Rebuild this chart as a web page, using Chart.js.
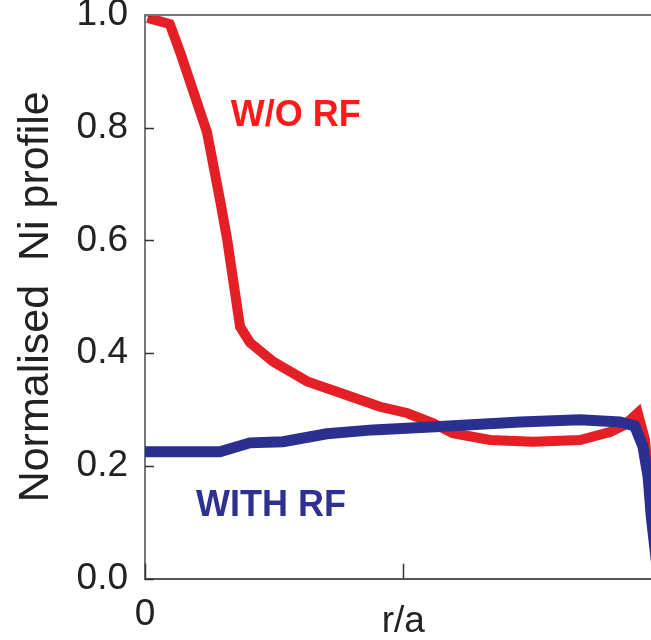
<!DOCTYPE html>
<html>
<head>
<meta charset="utf-8">
<script src="https://cdn.jsdelivr.net/npm/chart.js@4"></script>
<style>
  html, body { margin: 0; padding: 0; background: #fff; overflow: hidden; }
  #wrap { width: 700px; height: 640px; }
</style>
</head>
<body>
<div id="wrap"><canvas id="grafico" width="700" height="640"></canvas></div>
<script>
// r/a positions and normalised Ni profile
const semRfX = [0.005, 0.048, 0.068, 0.12, 0.145, 0.159, 0.184, 0.203, 0.248, 0.314, 0.377, 0.455, 0.507, 0.557, 0.596, 0.668, 0.751, 0.842, 0.9, 0.929, 0.954, 0.968, 0.981, 1.0];
const semRfY = [0.995, 0.984, 0.934, 0.792, 0.673, 0.602, 0.447, 0.419, 0.385, 0.35, 0.33, 0.305, 0.294, 0.276, 0.258, 0.246, 0.243, 0.246, 0.26, 0.273, 0.294, 0.246, 0.104, 0.0];

const comRfX = [0, 0.145, 0.203, 0.267, 0.352, 0.441, 0.571, 0.726, 0.842, 0.919, 0.948, 0.964, 0.974, 0.98, 0.99, 1.0];
const comRfY = [0.225, 0.225, 0.241, 0.243, 0.257, 0.264, 0.27, 0.278, 0.282, 0.278, 0.271, 0.234, 0.18, 0.11, 0.03, 0.0];

const yTicks = [0, 0.2, 0.4, 0.6, 0.8, 1.0];
const xTickLabels = { 0: '0', 0.5: '', 1: '1' };

// curve labels, placed in data coordinates
const rotulos = [
    { texto: 'W/O RF', x: 0.292, y: 0.82, cor: '#ff1a1a' },
    { texto: 'WITH RF', x: 0.244, y: 0.129, cor: '#2e3192' }
];

const vermelho = '#e41f26';
const azul = '#2b3090';

function pares(xs, ys) {
    return xs.map((x, i) => ({ x: x, y: ys[i] }));
}

// inward tick marks, frame line and curve labels
const extras = {
    id: 'extras',
    afterDatasetsDraw(chart) {
        const ctx = chart.ctx;
        const area = chart.chartArea;
        const sx = chart.scales.x;
        const sy = chart.scales.y;
        ctx.save();
        ctx.strokeStyle = '#333';
        ctx.lineWidth = 1.5;
        sy.ticks.forEach(t => {
            const py = Math.round(sy.getPixelForValue(t.value)) + 0.5;
            ctx.beginPath();
            ctx.moveTo(area.left, py);
            ctx.lineTo(area.left + 9, py);
            ctx.stroke();
        });
        sx.ticks.forEach(t => {
            const px = Math.round(sx.getPixelForValue(t.value)) + 0.5;
            ctx.beginPath();
            ctx.moveTo(px, area.bottom);
            ctx.lineTo(px, area.bottom - 15);
            ctx.stroke();
        });
        ctx.strokeStyle = '#777';
        ctx.lineWidth = 2;
        ctx.beginPath();
        ctx.moveTo(area.left, area.top);
        ctx.lineTo(area.right, area.top);
        ctx.lineTo(area.right, area.bottom);
        ctx.stroke();

        ctx.font = 'bold 36px "Liberation Sans", Arial, sans-serif';
        ctx.textAlign = 'center';
        ctx.textBaseline = 'middle';
        rotulos.forEach(r => {
            ctx.fillStyle = r.cor;
            ctx.fillText(r.texto, sx.getPixelForValue(r.x), sy.getPixelForValue(r.y));
        });
        ctx.restore();
    }
};

const ctx = document.getElementById('grafico').getContext('2d');

new Chart(ctx, {
    type: 'scatter',
    data: {
        datasets: [
            {
                label: 'W/O RF',
                data: pares(semRfX, semRfY),
                showLine: true,
                borderColor: vermelho,
                backgroundColor: vermelho,
                borderWidth: 10,
                pointRadius: 0,
                tension: 0,
                order: 2
            },
            {
                label: 'WITH RF',
                data: pares(comRfX, comRfY),
                showLine: true,
                borderColor: azul,
                backgroundColor: azul,
                borderWidth: 11,
                pointRadius: 0,
                tension: 0,
                order: 1
            }
        ]
    },
    options: {
        responsive: false,
        animation: false,
        layout: { padding: { top: 15, right: 38.4, left: 0, bottom: 0 } },
        plugins: {
            legend: { display: false },
            tooltip: { enabled: false }
        },
        scales: {
            x: {
                type: 'linear',
                min: 0,
                max: 1,
                afterBuildTicks: s => { s.ticks = Object.keys(xTickLabels).map(v => ({ value: parseFloat(v) })); },
                afterFit: s => { s.height = 61.3; },
                grid: { display: false, drawTicks: false },
                border: { display: true, color: '#555', width: 2 },
                ticks: {
                    padding: 14,
                    color: '#222',
                    font: { family: '"Liberation Sans", Arial, sans-serif', size: 37 },
                    callback: v => xTickLabels[v] !== undefined ? xTickLabels[v] : ''
                },
                title: {
                    display: true,
                    text: 'r/a',
                    color: '#222',
                    font: { family: '"Liberation Sans", Arial, sans-serif', size: 37, lineHeight: 1 },
                    padding: { top: 0, bottom: 0 }
                }
            },
            y: {
                type: 'linear',
                min: 0,
                max: 1,
                afterBuildTicks: s => { s.ticks = yTicks.map(v => ({ value: v })); },
                afterFit: s => { s.width = 145; s.paddingTop = 0; s.paddingBottom = 0; },
                grid: { display: false, drawTicks: false },
                border: { display: true, color: '#777', width: 2 },
                ticks: {
                    padding: 17,
                    color: '#222',
                    font: { family: '"Liberation Sans", Arial, sans-serif', size: 37 },
                    callback: v => v.toFixed(1)
                },
                title: {
                    display: true,
                    text: 'Normalised  Ni profile',
                    color: '#222',
                    font: { family: '"Liberation Sans", Arial, sans-serif', size: 43, lineHeight: 1 },
                    padding: { top: 15, bottom: 0 }
                }
            }
        }
    },
    plugins: [extras]
});
</script>
</body>
</html>
